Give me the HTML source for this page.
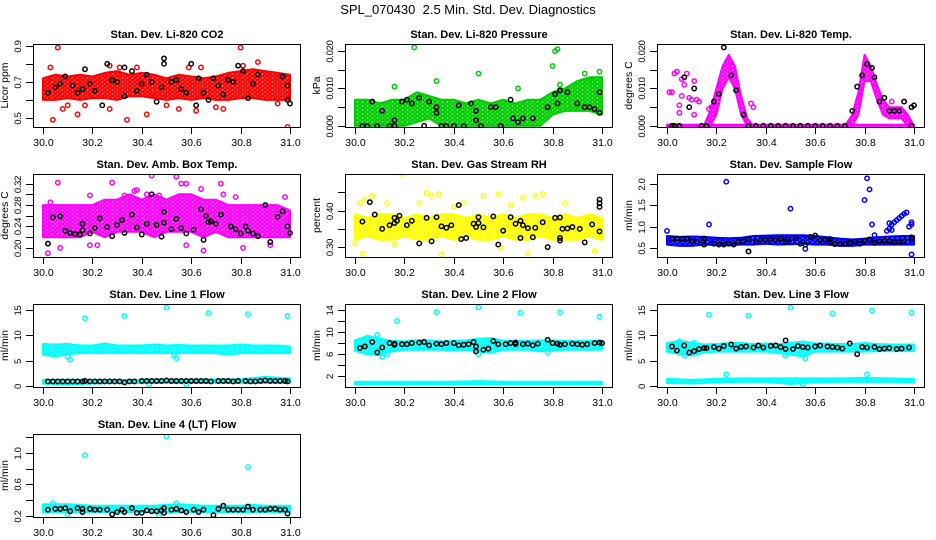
<!DOCTYPE html>
<html><head><meta charset="utf-8"><title>SPL_070430 Diagnostics</title>
<style>
html,body{margin:0;padding:0;background:#fff;}
svg{display:block;font-family:"Liberation Sans",Arial,sans-serif;}
</style></head>
<body>
<svg id="chart" width="936" height="540" viewBox="0 0 936 540" xmlns="http://www.w3.org/2000/svg">
<rect x="0" y="0" width="936" height="540" fill="#fff"/>
<text x="468" y="14" text-anchor="middle" font-size="13" style="white-space:pre">SPL_070430  2.5 Min. Std. Dev. Diagnostics</text>
</svg>
<script>
// ---------- shared x axis ----------
const xTicks = [30.0, 30.2, 30.4, 30.6, 30.8, 31.0];
const xTickLabels = ["30.0", "30.2", "30.4", "30.6", "30.8", "31.0"];

// ---------- P1 Li-820 CO2 ----------
const p1BandLo = [0.60,0.60,0.61,0.60,0.61,0.61,0.60,0.62,0.62,0.61,0.60,0.61,0.60,0.61,0.60,0.60,0.61,0.61,0.60,0.60,0.60];
const p1BandHi = [0.72,0.74,0.73,0.74,0.73,0.75,0.76,0.74,0.75,0.74,0.72,0.74,0.73,0.72,0.73,0.75,0.76,0.77,0.76,0.75,0.74];
const p1OutX = [30.06,30.03,30.04,30.14,30.17,30.27,30.34,30.27,30.42,30.55,30.62,30.73,30.80,30.81,30.87,30.99,30.10,30.50,30.64,30.95,30.08,30.31,30.45,30.59,30.38,30.70];
const p1OutY = [0.89,0.78,0.49,0.52,0.57,0.55,0.49,0.79,0.52,0.55,0.54,0.55,0.89,0.79,0.81,0.45,0.57,0.57,0.78,0.58,0.55,0.78,0.62,0.78,0.78,0.56];
const p1BlkX = [30.02,30.05,30.07,30.09,30.12,30.14,30.16,30.17,30.19,30.21,30.24,30.26,30.28,30.30,30.33,30.33,30.36,30.38,30.40,30.42,30.44,30.46,30.48,30.49,30.49,30.52,30.54,30.56,30.58,30.60,30.62,30.63,30.65,30.67,30.69,30.71,30.73,30.75,30.77,30.79,30.81,30.83,30.85,30.87,30.97,30.99,30.99,31.00];
const p1BlkY = [0.64,0.67,0.69,0.73,0.68,0.64,0.66,0.77,0.69,0.65,0.57,0.80,0.71,0.70,0.62,0.78,0.76,0.65,0.69,0.74,0.70,0.59,0.67,0.80,0.83,0.70,0.71,0.66,0.64,0.80,0.57,0.72,0.64,0.60,0.72,0.68,0.63,0.71,0.70,0.79,0.76,0.61,0.69,0.74,0.73,0.68,0.60,0.58];

// ---------- P2 Li-820 Pressure ----------
const p2BandLo = [0,0,0,0,0,0.001,0.002,0,0,0,0,0,0,0,0,0,0.003,0.004,0.004,0.004,0.003];
const p2BandHi = [0.007,0.007,0.006,0.007,0.007,0.009,0.008,0.007,0.007,0.006,0.007,0.006,0.007,0.006,0.007,0.007,0.009,0.010,0.012,0.013,0.013];
const p2OutX = [30.24,30.16,30.33,30.50,30.66,30.80,30.81,30.82,30.83,30.99,30.93,30.96];
const p2OutY = [0.021,0.0105,0.012,0.014,0.010,0.016,0.020,0.0205,0.011,0.0145,0.014,0.012];
const p2BlkX = [30.03,30.05,30.07,30.09,30.11,30.14,30.16,30.16,30.19,30.21,30.23,30.26,30.28,30.30,30.33,30.33,30.35,30.37,30.40,30.42,30.44,30.47,30.49,30.49,30.51,30.55,30.57,30.59,30.63,30.64,30.66,30.68,30.72,30.78,30.81,30.82,30.83,30.86,30.90,30.93,30.95,30.97,30.99,30.99];
const p2BlkY = [0,0,0.0065,0,0.004,0,0.0015,0,0.0065,0.007,0.006,0.0075,0,0.0065,0.0035,0.005,0,0,0,0.0055,0,0.006,0.0015,0.004,0,0.005,0.005,0,0.007,0.002,0.001,0.002,0.002,0.005,0.0085,0.006,0.0095,0.009,0.006,0.005,0.005,0.0045,0.009,0.0035];

// ---------- P3 Li-820 Temp ----------
const p3BandLo = [0,0,0,0,0,0,0,0,0.003,0.010,0.013,0.010,0.003,0,0,0,0,0,0,0,0,0,0,0,0,0,0,0,0,0,0,0.003,0.012,0.012,0.007,0.003,0.002,0.002,0.002,0,0];
const p3BandHi = [0,0,0,0,0,0,0,0.004,0.010,0.016,0.019,0.016,0.008,0.002,0,0,0,0,0,0,0,0,0,0,0,0,0,0,0,0.0005,0.003,0.009,0.019,0.016,0.011,0.007,0.005,0.005,0.005,0.003,0];
const p3Band2Lo = [0,0,0,0,0,0,0,0,0,0,0,0,0,0,0,0,0,0,0,0,0];
const p3Band2Hi = [0.0003,0.0003,0.0003,0.0003,0.0003,0.0003,0.0003,0.0003,0.0003,0.0003,0.0003,0.0003,0.0003,0.0003,0.0003,0.0003,0.0003,0.0003,0.0003,0.0003,0.0003];
const p3OutX = [30.01,30.02,30.03,30.04,30.05,30.06,30.06,30.07,30.08,30.09,30.10,30.11,30.12,30.13,30.11,30.05,30.18,30.17,30.34,30.35,30.91,30.96];
const p3OutY = [0.009,0.009,0.014,0.0145,0.0035,0.0125,0.008,0.011,0.014,0.0075,0.007,0.012,0.007,0.0065,0.003,0.0055,0.005,0.0045,0.006,0.005,0.0065,0.0065];
const p3BlkX = [30.02,30.03,30.05,30.07,30.09,30.11,30.14,30.16,30.19,30.21,30.23,30.26,30.28,30.31,30.33,30.36,30.39,30.42,30.45,30.48,30.51,30.54,30.57,30.60,30.63,30.66,30.69,30.72,30.75,30.77,30.79,30.81,30.83,30.84,30.86,30.88,30.90,30.92,30.94,30.96,30.99,31.00,30.99];
const p3BlkY = [0,0,0,0.013,0.005,0.010,0,0,0.0065,0.0085,0.021,0.0135,0.0095,0.003,0,0,0,0,0,0,0,0,0,0,0,0,0,0,0.004,0.0105,0.0135,0.0165,0.0155,0.013,0.0065,0.0075,0.004,0.004,0.004,0.0065,0.005,0.0055,0];

// ---------- P4 Amb. Box Temp ----------
const p4BandLo = [0.22,0.22,0.22,0.22,0.23,0.22,0.23,0.23,0.23,0.22,0.23,0.23,0.23,0.22,0.23,0.22,0.22,0.22,0.22,0.22,0.22];
const p4BandHi = [0.28,0.28,0.28,0.28,0.28,0.29,0.29,0.30,0.29,0.30,0.29,0.30,0.30,0.29,0.29,0.28,0.28,0.28,0.28,0.28,0.27];
const p4OutX = [30.02,30.06,30.03,30.19,30.28,30.33,30.37,30.38,30.42,30.44,30.47,30.54,30.56,30.58,30.64,30.72,30.73,30.78,30.98,30.65,30.81,30.19,30.22,30.58,30.07,30.92];
const p4OutY = [0.19,0.322,0.285,0.298,0.322,0.298,0.306,0.308,0.30,0.335,0.298,0.333,0.32,0.32,0.310,0.320,0.300,0.295,0.295,0.195,0.20,0.205,0.205,0.205,0.20,0.205];
const p4BlkX = [30.02,30.04,30.07,30.09,30.11,30.13,30.15,30.16,30.16,30.19,30.21,30.23,30.26,30.28,30.30,30.32,30.33,30.36,30.38,30.40,30.42,30.44,30.46,30.48,30.49,30.49,30.52,30.54,30.56,30.58,30.61,30.64,30.65,30.66,30.67,30.68,30.70,30.72,30.76,30.78,30.80,30.82,30.83,30.85,30.87,30.90,30.92,30.95,30.97,30.99,31.00];
const p4BlkY = [0.208,0.257,0.259,0.232,0.228,0.226,0.225,0.245,0.233,0.227,0.237,0.255,0.239,0.222,0.243,0.252,0.228,0.262,0.238,0.225,0.245,0.300,0.243,0.221,0.267,0.247,0.235,0.254,0.237,0.227,0.234,0.272,0.215,0.260,0.248,0.250,0.245,0.262,0.240,0.235,0.227,0.240,0.232,0.227,0.222,0.280,0.211,0.258,0.268,0.240,0.228];

// ---------- P5 Gas Stream RH ----------
const p5BandLo = [0.32,0.33,0.32,0.32,0.33,0.32,0.32,0.33,0.32,0.33,0.32,0.32,0.33,0.32,0.32,0.33,0.32,0.32,0.32,0.33,0.32];
const p5BandHi = [0.39,0.38,0.39,0.39,0.38,0.39,0.38,0.39,0.39,0.38,0.39,0.38,0.39,0.38,0.39,0.39,0.38,0.39,0.38,0.39,0.38];
const p5OutX = [30.00,30.02,30.03,30.04,30.07,30.13,30.19,30.26,30.29,30.31,30.35,30.34,30.40,30.44,30.52,30.58,30.63,30.68,30.73,30.76,30.85,30.98,30.97,30.59,30.70,30.16,30.93];
const p5OutY = [0.31,0.42,0.282,0.43,0.44,0.42,0.50,0.42,0.448,0.44,0.28,0.445,0.41,0.42,0.44,0.445,0.415,0.435,0.44,0.445,0.42,0.36,0.29,0.298,0.283,0.308,0.36];
const p5BlkX = [30.03,30.06,30.08,30.11,30.14,30.16,30.16,30.17,30.18,30.21,30.23,30.26,30.29,30.31,30.33,30.35,30.37,30.39,30.42,30.43,30.45,30.48,30.49,30.50,30.50,30.52,30.56,30.58,30.60,30.63,30.65,30.67,30.67,30.68,30.70,30.72,30.73,30.76,30.78,30.81,30.83,30.83,30.83,30.84,30.86,30.88,30.91,30.93,30.96,30.99,30.99,30.99,30.99];
const p5BlkY = [0.37,0.423,0.389,0.35,0.36,0.38,0.366,0.372,0.386,0.36,0.372,0.31,0.380,0.316,0.382,0.357,0.353,0.360,0.415,0.322,0.325,0.364,0.355,0.382,0.366,0.354,0.384,0.307,0.345,0.382,0.364,0.325,0.372,0.36,0.352,0.327,0.353,0.368,0.300,0.380,0.381,0.318,0.325,0.35,0.351,0.355,0.35,0.313,0.362,0.43,0.41,0.42,0.343];

// ---------- P6 Sample Flow ----------
const p6BandLo = [0.58,0.55,0.55,0.58,0.57,0.57,0.58,0.58,0.60,0.58,0.59,0.60,0.58,0.58,0.55,0.55,0.58,0.58,0.58,0.58,0.58];
const p6BandHi = [0.78,0.76,0.77,0.76,0.74,0.73,0.74,0.78,0.79,0.80,0.80,0.80,0.78,0.75,0.72,0.70,0.72,0.75,0.77,0.78,0.78];
const p6OutX = [30.89,30.90,30.91,30.92,30.93,30.94,30.95,30.96,30.97,30.98,30.99,30.99,30.90,30.91,30.00,30.17,30.24,30.50,30.80,30.81,30.82,30.83,30.84,30.99,30.33,30.56];
const p6OutY = [0.90,0.95,1.05,1.10,1.15,1.20,1.25,1.30,1.33,1.00,1.10,1.05,1.08,0.92,0.90,1.05,2.05,1.42,1.62,2.13,1.87,1.05,0.80,0.35,0.42,0.48];
const p6BlkX = [30.02,30.04,30.06,30.08,30.10,30.12,30.15,30.15,30.19,30.21,30.23,30.25,30.27,30.29,30.31,30.33,30.33,30.36,30.38,30.40,30.42,30.44,30.46,30.48,30.49,30.52,30.54,30.56,30.58,30.60,30.62,30.64,30.66,30.66,30.68,30.70,30.72,30.74,30.76,30.78,30.80,30.82,30.84,30.86,30.88,30.90,30.92,30.94,30.96,30.99,30.99];
const p6BlkY = [0.71,0.72,0.71,0.71,0.66,0.65,0.72,0.58,0.60,0.58,0.58,0.60,0.58,0.65,0.66,0.70,0.42,0.65,0.70,0.69,0.70,0.69,0.72,0.64,0.70,0.74,0.60,0.58,0.76,0.79,0.68,0.70,0.71,0.64,0.59,0.60,0.60,0.62,0.65,0.60,0.67,0.70,0.62,0.66,0.67,0.66,0.64,0.64,0.66,0.70,0.75];

// ---------- P7 Line 1 Flow ----------
const p7BandLo = [6.2,5.8,6.3,6.5,6.5,6.5,6.5,6.5,6.5,6.5,6.5,6.5,6.5,6.5,6.5,6.2,6.5,6.5,6.5,6.5,6.5];
const p7BandHi = [8.3,8.2,8.3,8.0,8.0,8.4,8.0,8.0,8.0,8.2,8.0,8.1,8.0,8.0,8.0,8.0,8.2,8.0,8.0,8.0,7.8];
const p7Band2Lo = [0.5,0.3,0.5,0.6,0.6,0.6,0.6,0.6,0.6,0.6,0.6];
const p7Band2Hi = [1.2,1.2,1.2,1.2,1.2,1.3,1.2,1.3,1.3,1.8,1.5];
const p7OutX = [30.17,30.33,30.50,30.67,30.83,30.99,30.11,30.54,30.53,30.10,30.43,30.58];
const p7OutY = [13.4,13.8,15.5,14.4,14.2,13.8,5.2,5.5,6.0,5.8,0.3,0.3];
const p7BlkX = [30.02,30.04,30.06,30.08,30.10,30.12,30.14,30.16,30.17,30.19,30.21,30.23,30.25,30.27,30.29,30.31,30.33,30.35,30.37,30.40,30.42,30.44,30.46,30.48,30.50,30.52,30.54,30.56,30.58,30.60,30.62,30.64,30.66,30.68,30.71,30.73,30.75,30.77,30.79,30.82,30.84,30.86,30.88,30.90,30.92,30.94,30.96,30.98,30.99];
const p7BlkY = [0.9,0.9,0.9,0.9,0.9,0.9,0.9,0.9,1.0,0.9,0.9,0.9,0.9,0.9,0.9,0.9,0.7,0.9,0.9,1.0,1.0,1.0,1.0,1.0,1.1,1.0,1.0,1.0,1.0,1.0,1.0,1.0,1.0,0.9,1.0,1.0,1.0,0.9,1.0,1.0,0.9,0.9,1.0,1.1,1.0,1.0,1.0,1.0,0.9];

// ---------- P8 Line 2 Flow ----------
const p8BandLo = [6.6,6.0,5.8,6.5,6.8,6.8,6.8,6.8,6.7,6.8,6.5,6.2,6.8,6.8,6.8,6.5,6.7,6.8,6.8,6.8,6.8];
const p8BandHi = [8.5,9.3,8.8,8.4,8.3,8.5,8.5,8.3,8.4,8.5,8.8,8.9,8.4,8.4,8.4,8.5,8.5,8.4,8.4,8.4,8.4];
const p8Band2Lo = [0.5,0.5,0.5,0.5,0.5,0.5,0.5,0.5,0.5,0.5,0.5];
const p8Band2Hi = [1.0,1.0,1.0,1.0,1.0,1.1,1.0,1.0,1.0,1.0,1.0];
const p8OutX = [30.17,30.33,30.50,30.67,30.83,30.99,30.11,30.13,30.50,30.78,30.09];
const p8OutY = [12.0,13.6,14.5,13.5,13.6,12.8,5.5,6.0,6.0,6.3,9.5];
const p8BlkX = [30.02,30.04,30.07,30.09,30.11,30.14,30.16,30.16,30.19,30.21,30.23,30.26,30.28,30.30,30.33,30.35,30.37,30.40,30.42,30.44,30.46,30.48,30.49,30.49,30.52,30.54,30.56,30.58,30.61,30.63,30.65,30.65,30.68,30.70,30.72,30.74,30.78,30.80,30.82,30.83,30.85,30.88,30.90,30.92,30.94,30.97,30.99,31.00];
const p8BlkY = [7.1,7.4,8.2,6.3,7.2,8.0,7.7,7.9,7.8,7.8,8.0,8.1,8.2,7.6,7.9,7.8,8.0,8.0,7.6,7.7,7.8,8.2,6.5,7.4,6.8,7.0,8.4,7.8,7.8,8.0,8.1,7.8,7.8,7.9,7.6,7.9,8.6,8.0,7.9,7.7,7.8,7.9,7.8,7.7,7.8,8.0,8.1,8.0];

// ---------- P9 Line 3 Flow ----------
const p9BandLo = [6.8,6.3,6.0,6.6,6.8,6.8,6.8,6.8,6.8,6.5,6.2,5.8,6.8,6.8,6.8,6.8,6.8,6.9,6.9,6.9,6.9];
const p9BandHi = [8.5,8.9,8.6,8.2,8.3,8.5,8.5,8.3,8.4,8.3,8.5,8.8,8.4,8.4,8.3,8.3,8.5,8.3,8.2,8.2,8.2];
const p9Band2Lo = [0.6,0.5,0.7,0.8,0.8,0.4,0.7,0.8,0.8,0.8,0.7];
const p9Band2Hi = [1.4,1.2,1.4,1.5,1.5,1.5,1.5,1.5,1.6,1.5,1.4];
const p9OutX = [30.17,30.33,30.50,30.67,30.83,30.99,30.24,30.56,30.48,30.07,30.05,30.11,30.81,30.55];
const p9OutY = [14.1,13.9,15.5,14.3,14.9,14.5,2.3,5.5,6.0,6.0,8.8,8.5,2.3,0.3];
const p9BlkX = [30.02,30.04,30.07,30.09,30.11,30.13,30.15,30.16,30.19,30.21,30.23,30.26,30.28,30.30,30.32,30.35,30.37,30.39,30.42,30.44,30.46,30.48,30.48,30.51,30.53,30.55,30.57,30.60,30.62,30.65,30.67,30.69,30.71,30.74,30.77,30.79,30.81,30.84,30.86,30.88,30.90,30.93,30.95,30.98];
const p9BlkY = [7.8,7.0,8.0,6.6,6.9,7.3,7.5,7.5,7.7,7.4,7.9,8.2,7.4,7.7,7.8,7.6,8.0,7.6,7.9,8.0,7.7,9.0,7.3,7.3,7.9,7.7,7.6,7.8,8.0,7.8,7.7,7.6,7.4,8.4,6.3,7.7,7.6,7.7,7.3,7.4,7.5,7.3,7.4,7.6];

// ---------- P10 Line 4 (LT) Flow ----------
const p10BandLo = [0.25,0.25,0.25,0.25,0.25,0.25,0.25,0.25,0.25,0.25,0.24,0.25,0.25,0.25,0.25,0.25,0.25,0.25,0.25,0.25,0.25];
const p10BandHi = [0.35,0.35,0.35,0.34,0.33,0.33,0.33,0.33,0.33,0.33,0.34,0.35,0.34,0.33,0.33,0.33,0.33,0.34,0.33,0.33,0.33];
const p10OutX = [30.17,30.50,30.83,30.04,30.10,30.54,30.47];
const p10OutY = [0.97,1.21,0.82,0.36,0.22,0.36,0.20];
const p10BlkX = [30.02,30.05,30.07,30.09,30.11,30.14,30.16,30.16,30.19,30.21,30.23,30.26,30.28,30.30,30.32,30.33,30.36,30.38,30.40,30.42,30.44,30.46,30.48,30.49,30.49,30.52,30.54,30.56,30.58,30.61,30.63,30.65,30.69,30.71,30.73,30.75,30.77,30.79,30.81,30.83,30.85,30.88,30.90,30.92,30.94,30.96,30.98,30.99];
const p10BlkY = [0.28,0.29,0.29,0.30,0.26,0.30,0.29,0.25,0.29,0.28,0.28,0.28,0.22,0.25,0.28,0.25,0.30,0.24,0.24,0.27,0.26,0.26,0.27,0.24,0.30,0.28,0.29,0.27,0.25,0.28,0.25,0.28,0.21,0.29,0.33,0.28,0.28,0.28,0.28,0.32,0.28,0.28,0.28,0.29,0.29,0.28,0.28,0.23];

// ---------- y-axis ticks & labels ----------
const p1Ticks = [0.5,0.6,0.7,0.8,0.9];           const p1TickLabels = ["0.5","","0.7","","0.9"];
const p2Ticks = [0,0.005,0.010,0.015,0.020];     const p2TickLabels = ["0.000","","0.010","","0.020"];
const p3Ticks = [0,0.005,0.010,0.015,0.020];     const p3TickLabels = ["0.000","","0.010","","0.020"];
const p4Ticks = [0.20,0.22,0.24,0.26,0.28,0.30,0.32]; const p4TickLabels = ["0.20","","0.24","","0.28","","0.32"];
const p5Ticks = [0.30,0.35,0.40,0.45];           const p5TickLabels = ["0.30","","0.40",""];
const p6Ticks = [0.5,1.0,1.5,2.0];               const p6TickLabels = ["0.5","1.0","1.5","2.0"];
const p7Ticks = [0,5,10,15];                     const p7TickLabels = ["0","5","10","15"];
const p8Ticks = [2,4,6,8,10,12,14];              const p8TickLabels = ["2","","6","","10","","14"];
const p9Ticks = [0,5,10,15];                     const p9TickLabels = ["0","5","10","15"];
const p10Ticks = [0.2,0.4,0.6,0.8,1.0,1.2];      const p10TickLabels = ["0.2","","0.6","","1.0",""];

const NS = "http://www.w3.org/2000/svg";
const svg = document.getElementById("chart");
function mk(tag, attrs, parent) {
  const e = document.createElementNS(NS, tag);
  for (const k in attrs) e.setAttribute(k, attrs[k]);
  (parent || svg).appendChild(e);
  return e;
}
const defs = mk("defs", {});
const patIds = {};
function patFor(color) {
  if (patIds[color]) return patIds[color];
  const id = "pat" + Object.keys(patIds).length;
  const p = mk("pattern", {id: id, width: 5, height: 4, patternUnits: "userSpaceOnUse"}, defs);
  mk("rect", {x: 0, y: 0, width: 5, height: 4, fill: color, "fill-opacity": 0.55}, p);
  mk("circle", {cx: 2.5, cy: 2, r: 1.9, fill: "none", stroke: color, "stroke-width": 1.5}, p);
  mk("circle", {cx: 0, cy: 0, r: 1.9, fill: "none", stroke: color, "stroke-width": 1.5}, p);
  mk("circle", {cx: 5, cy: 4, r: 1.9, fill: "none", stroke: color, "stroke-width": 1.5}, p);
  patIds[color] = id;
  return id;
}

function drawPanel(r, c, cfg) {
  const left = 33 + 312 * c, right = left + 268, top = 44 + 130 * r, bottom = top + 83;
  const sx = v => left + 10 + (v - 30) * 247;
  const sy = v => bottom - (v - cfg.ylim[0]) / (cfg.ylim[1] - cfg.ylim[0]) * (bottom - top);
  const g = mk("g", {});
  
  

  const clip = mk("clipPath", {id: "clip-" + cfg.name}, g);
  mk("rect", {x: left, y: top, width: right - left, height: bottom - top}, clip);
  const plot = mk("g", {"clip-path": "url(#clip-" + cfg.name + ")"}, g);
  
  

  const pid = patFor(cfg.color);
  cfg.bands.forEach((b, bi) => {
    const lo = b[0], hi = b[1], n = lo.length;
    const xs = lo.map((_, i) => 30 + i / (n - 1));
    let pts = [];
    for (let i = 0; i < n; i++) pts.push(sx(xs[i]).toFixed(1) + "," + sy(hi[i]).toFixed(1));
    for (let i = n - 1; i >= 0; i--) pts.push(sx(xs[i]).toFixed(1) + "," + sy(lo[i]).toFixed(1));
    const p = mk("polygon", {points: pts.join(" "), fill: "url(#" + pid + ")", stroke: cfg.color, "stroke-width": 2, "stroke-linejoin": "round"}, plot);
    
    
  });
  cfg.outX.forEach((x, i) => {
    const ci = mk("circle", {cx: sx(x), cy: sy(cfg.outY[i]), r: 2.2, fill: "none", stroke: cfg.color, "stroke-width": 1.5}, plot);
    
    
  });
  cfg.blkX.forEach((x, i) => {
    const ci = mk("circle", {cx: sx(x), cy: sy(cfg.blkY[i]), r: 2.2, fill: "none", stroke: "#000", "stroke-width": 1.5}, plot);
    
    
  });

  const box = mk("rect", {x: left + 0.5, y: top + 0.5, width: right - left - 1, height: bottom - top, fill: "none", stroke: "#000", "stroke-width": 1}, g);
  
  

  const xa = mk("g", {}, g);
  
  
  xTicks.forEach((t, i) => {
    const x = Math.round(sx(t)) + 0.5;
    mk("line", {x1: x, y1: bottom, x2: x, y2: bottom + 7, stroke: "#000"}, xa);
    const tx = mk("text", {x: x, y: bottom + 19, "text-anchor": "middle", "font-size": 10.5}, xa);
    tx.textContent = xTickLabels[i];
  });
  const ya = mk("g", {}, g);
  
  
  cfg.ticks.forEach((t, i) => {
    const y = Math.round(sy(t)) + 0.5;
    mk("line", {x1: left - 7, y1: y, x2: left, y2: y, stroke: "#000"}, ya);
    if (cfg.tickLabels[i]) {
      const tx = mk("text", {x: left - 12, y: y, "text-anchor": "middle", "font-size": 9.5, "letter-spacing": "-0.3", transform: "rotate(-90 " + (left - 12) + " " + y + ")"}, ya);
      tx.textContent = cfg.tickLabels[i];
    }
  });
  const yl = mk("text", {x: left - 25, y: (top + bottom) / 2, "text-anchor": "middle", "font-size": 10.5, transform: "rotate(-90 " + (left - 25) + " " + ((top + bottom) / 2) + ")"}, g);
  yl.textContent = cfg.ylab;
  
  

  const ti = mk("text", {x: (left + right) / 2, y: top - 6, "text-anchor": "middle", "font-size": 11, "font-weight": "bold"}, g);
  ti.textContent = cfg.title;
  
  
}

drawPanel(0, 0, {name: "co2", title: "Stan. Dev. Li-820 CO2", ylab: "Licor ppm", ylim: [0.45, 0.91], color: "#ff0000",
  bands: [[p1BandLo, p1BandHi]], outX: p1OutX, outY: p1OutY, blkX: p1BlkX, blkY: p1BlkY, ticks: p1Ticks, tickLabels: p1TickLabels});
drawPanel(0, 1, {name: "pressure", title: "Stan. Dev. Li-820 Pressure", ylab: "kPa", ylim: [-0.0003, 0.0219], color: "#00cd00",
  bands: [[p2BandLo, p2BandHi]], outX: p2OutX, outY: p2OutY, blkX: p2BlkX, blkY: p2BlkY, ticks: p2Ticks, tickLabels: p2TickLabels});
drawPanel(0, 2, {name: "licor-temp", title: "Stan. Dev. Li-820 Temp.", ylab: "degrees C", ylim: [-0.0003, 0.0219], color: "#ff00ff",
  bands: [[p3BandLo, p3BandHi], [p3Band2Lo, p3Band2Hi]], outX: p3OutX, outY: p3OutY, blkX: p3BlkX, blkY: p3BlkY, ticks: p3Ticks, tickLabels: p3TickLabels});
drawPanel(1, 0, {name: "amb-box-temp", title: "Stan. Dev. Amb. Box Temp.", ylab: "degrees C", ylim: [0.183, 0.338], color: "#ff00ff",
  bands: [[p4BandLo, p4BandHi]], outX: p4OutX, outY: p4OutY, blkX: p4BlkX, blkY: p4BlkY, ticks: p4Ticks, tickLabels: p4TickLabels});
drawPanel(1, 1, {name: "gas-stream-rh", title: "Stan. Dev. Gas Stream RH", ylab: "percent", ylim: [0.273, 0.50], color: "#ffff00",
  bands: [[p5BandLo, p5BandHi]], outX: p5OutX, outY: p5OutY, blkX: p5BlkX, blkY: p5BlkY, ticks: p5Ticks, tickLabels: p5TickLabels});
drawPanel(1, 2, {name: "sample-flow", title: "Stan. Dev. Sample Flow", ylab: "ml/min", ylim: [0.29, 2.23], color: "#0000ff",
  bands: [[p6BandLo, p6BandHi]], outX: p6OutX, outY: p6OutY, blkX: p6BlkX, blkY: p6BlkY, ticks: p6Ticks, tickLabels: p6TickLabels});
drawPanel(2, 0, {name: "line1-flow", title: "Stan. Dev. Line 1 Flow", ylab: "ml/min", ylim: [-0.2, 16.2], color: "#00ffff",
  bands: [[p7BandLo, p7BandHi], [p7Band2Lo, p7Band2Hi]], outX: p7OutX, outY: p7OutY, blkX: p7BlkX, blkY: p7BlkY, ticks: p7Ticks, tickLabels: p7TickLabels});
drawPanel(2, 1, {name: "line2-flow", title: "Stan. Dev. Line 2 Flow", ylab: "ml/min", ylim: [0.03, 15.1], color: "#00ffff",
  bands: [[p8BandLo, p8BandHi], [p8Band2Lo, p8Band2Hi]], outX: p8OutX, outY: p8OutY, blkX: p8BlkX, blkY: p8BlkY, ticks: p8Ticks, tickLabels: p8TickLabels});
drawPanel(2, 2, {name: "line3-flow", title: "Stan. Dev. Line 3 Flow", ylab: "ml/min", ylim: [-0.2, 16.2], color: "#00ffff",
  bands: [[p9BandLo, p9BandHi], [p9Band2Lo, p9Band2Hi]], outX: p9OutX, outY: p9OutY, blkX: p9BlkX, blkY: p9BlkY, ticks: p9Ticks, tickLabels: p9TickLabels});
drawPanel(3, 0, {name: "line4-flow", title: "Stan. Dev. Line 4 (LT) Flow", ylab: "ml/min", ylim: [0.187, 1.24], color: "#00ffff",
  bands: [[p10BandLo, p10BandHi]], outX: p10OutX, outY: p10OutY, blkX: p10BlkX, blkY: p10BlkY, ticks: p10Ticks, tickLabels: p10TickLabels});
</script>
</body></html>
